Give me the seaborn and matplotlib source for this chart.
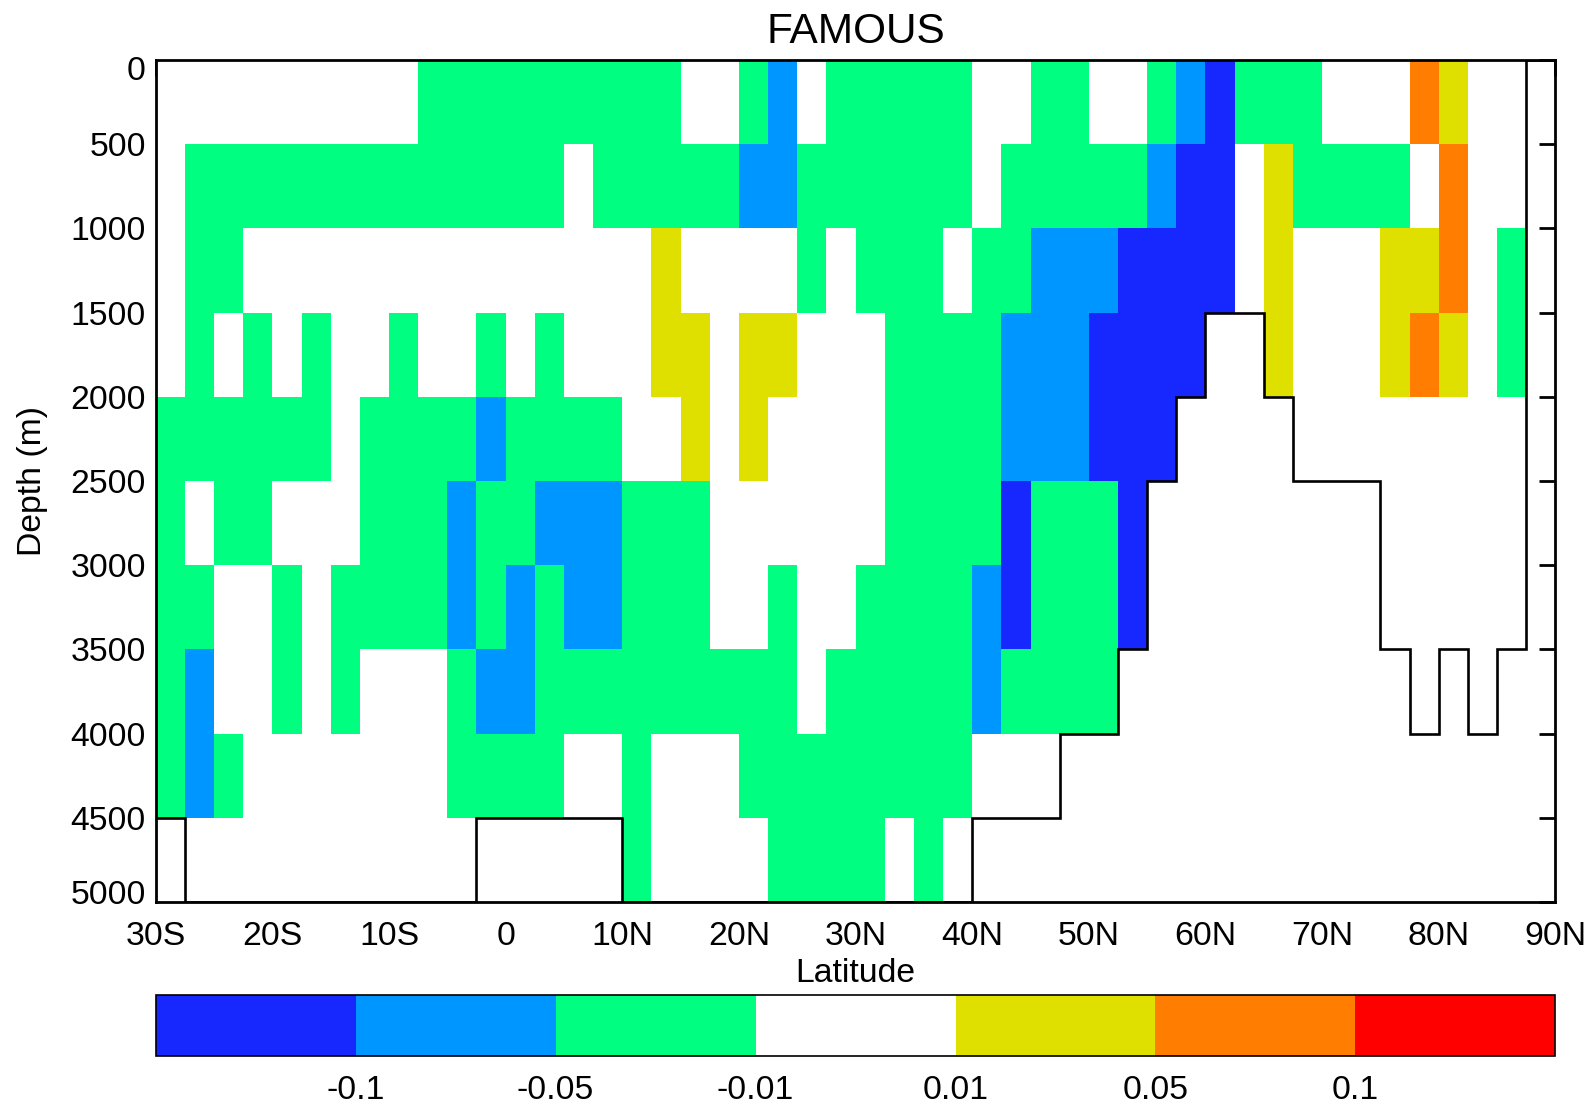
import numpy as np
import pandas as pd
import matplotlib
matplotlib.use("Agg")
import matplotlib.pyplot as plt
from matplotlib.colors import ListedColormap, BoundaryNorm
from matplotlib.cm import ScalarMappable
from matplotlib.transforms import ScaledTranslation
import seaborn as sns

# ---------------------------------------------------------------------------
# Section data: zonal-mean anomaly on a 2.5 deg x 500 m grid (NaN = land)
# ---------------------------------------------------------------------------
B, L, G, W, Y, O = -0.12, -0.07, -0.03, 0.0, 0.03, 0.07
N = np.nan

lat_step = 2.5
lat_start = -30.0
depth_step = 500

z_0000_0500 = [W, W, W, W, W, W, W, W, W, G, G, G, G, G, G, G, G, G, W, W, G, L, W, G,
               G, G, G, G, W, W, G, G, W, W, G, L, B, G, G, G, W, W, W, O, Y, W, W, N]
z_0500_1000 = [W, G, G, G, G, G, G, G, G, G, G, G, G, G, W, G, G, G, G, G, L, L, G, G,
               G, G, G, G, W, G, G, G, G, G, L, B, B, W, Y, G, G, G, G, W, O, W, W, N]
z_1000_1500 = [W, G, G, W, W, W, W, W, W, W, W, W, W, W, W, W, W, Y, W, W, W, W, G, W,
               G, G, G, W, G, G, L, L, L, B, B, B, B, W, Y, W, W, W, Y, Y, O, W, G, N]
z_1500_2000 = [W, G, W, G, W, G, W, W, G, W, W, G, W, G, W, W, W, Y, Y, W, Y, Y, W, W,
               W, G, G, G, G, L, L, L, B, B, B, B, N, N, Y, W, W, W, Y, O, Y, W, G, N]
z_2000_2500 = [G, G, G, G, G, G, W, G, G, G, G, L, G, G, G, G, W, W, Y, W, Y, W, W, W,
               W, G, G, G, G, L, L, L, B, B, B, N, N, N, N, W, W, W, W, W, W, W, W, N]
z_2500_3000 = [G, W, G, G, W, W, W, G, G, G, L, G, G, L, L, L, G, G, G, W, W, W, W, W,
               W, G, G, G, G, B, G, G, G, B, N, N, N, N, N, N, N, N, W, W, W, W, W, N]
z_3000_3500 = [G, G, W, W, G, W, G, G, G, G, L, G, L, G, L, L, G, G, G, W, W, G, W, W,
               G, G, G, G, L, B, G, G, G, B, N, N, N, N, N, N, N, N, W, W, W, W, W, N]
z_3500_4000 = [G, L, W, W, G, W, G, W, W, W, G, L, L, G, G, G, G, G, G, G, G, G, W, G,
               G, G, G, G, L, G, G, G, G, N, N, N, N, N, N, N, N, N, N, W, N, W, N, N]
z_4000_4500 = [G, L, G, W, W, W, W, W, W, W, G, G, G, G, W, W, G, W, W, W, G, G, G, G,
               G, G, G, G, W, W, W, N, N, N, N, N, N, N, N, N, N, N, N, N, N, N, N, N]
z_4500_5000 = [N, W, W, W, W, W, W, W, W, W, W, N, N, N, N, N, G, W, W, W, W, G, G, G,
               G, W, G, W, N, N, N, N, N, N, N, N, N, N, N, N, N, N, N, N, N, N, N, N]

# Ocean floor depth (m) of each latitude column
bottom_depth = [4500, 5000, 5000, 5000, 5000, 5000, 5000, 5000, 5000, 5000, 5000, 4500,
                4500, 4500, 4500, 4500, 5000, 5000, 5000, 5000, 5000, 5000, 5000, 5000,
                5000, 5000, 5000, 5000, 4500, 4500, 4500, 4000, 4000, 3500, 2500, 2000,
                1500, 1500, 2000, 2500, 2500, 2500, 3500, 4000, 3500, 4000, 3500, 0]

lat_ticks = ["30S", "20S", "10S", "0", "10N", "20N", "30N", "40N", "50N", "60N",
             "70N", "80N", "90N"]
depth_ticks = ["0", "500", "1000", "1500", "2000", "2500", "3000", "3500", "4000",
               "4500", "5000"]

levels = [-0.15, -0.1, -0.05, -0.01, 0.01, 0.05, 0.1, 0.15]
level_labels = ["-0.1", "-0.05", "-0.01", "0.01", "0.05", "0.1"]
band_colors = ["#1728ff", "#0096ff", "#00ff80", "#ffffff", "#e0e000", "#ff7d00", "#ff0000"]

# ---------------------------------------------------------------------------
sns.set_style("white")
plt.rcParams["font.family"] = ["Liberation Sans", "DejaVu Sans"]
plt.rcParams["text.color"] = "black"
plt.rcParams["axes.labelcolor"] = "black"
plt.rcParams["xtick.color"] = "black"
plt.rcParams["ytick.color"] = "black"

rows = [z_0000_0500, z_0500_1000, z_1000_1500, z_1500_2000, z_2000_2500,
        z_2500_3000, z_3000_3500, z_3500_4000, z_4000_4500, z_4500_5000]
n_lat = len(z_0000_0500)
lat_centres = lat_start + lat_step * (np.arange(n_lat) + 0.5)
depth_centres = depth_step * (np.arange(len(rows)) + 0.5)
field = pd.DataFrame(np.array(rows, dtype=float), index=depth_centres, columns=lat_centres)

cmap = ListedColormap(band_colors)
norm = BoundaryNorm(levels, cmap.N)

fig = plt.figure(figsize=(15.96, 11.05), dpi=100)
ax = fig.add_axes([0.09756, 0.18371, 0.87701, 0.76199])
cax = fig.add_axes([0.09756, 0.04434, 0.87701, 0.0552])

sns.heatmap(field, ax=ax, cmap=cmap, norm=norm, cbar=False,
            xticklabels=False, yticklabels=False)

# Land outline: step line along the ocean floor (heatmap cell units)
ax.stairs(np.array(bottom_depth) / depth_step, np.arange(n_lat + 1),
          baseline=None, color="black", linewidth=1.9, zorder=3)

ax.set_xticks(np.arange(0, n_lat + 1, int(10 / lat_step)))
ax.set_xticklabels(lat_ticks, rotation=0)
ax.set_yticks(np.arange(len(depth_ticks)))
ax.set_yticklabels(depth_ticks, rotation=0)

for side in ax.spines.values():
    side.set_visible(True)
    side.set_color("black")
    side.set_linewidth(2.0)
    side.set_zorder(4)

ax.tick_params(axis="both", which="major", direction="in", length=11.5, width=2,
               color="black", top=True, right=True, labelsize=24.3,
               labelcolor="black")
ax.tick_params(axis="x", pad=13.5)
ax.tick_params(axis="y", pad=7)

# Keep the end depth labels inside the frame
ylabels = ax.get_yticklabels()
ylabels[0].set_transform(ylabels[0].get_transform()
                         + ScaledTranslation(0, -0.08, fig.dpi_scale_trans))
ylabels[-1].set_transform(ylabels[-1].get_transform()
                          + ScaledTranslation(0, 0.10, fig.dpi_scale_trans))

ax.set_title("FAMOUS", fontsize=30.5, pad=12, color="black")
ax.set_xlabel("Latitude", fontsize=24.3)
ax.set_ylabel("Depth (m)", fontsize=24.3)
ax.xaxis.label.set_va("center")
ax.xaxis.set_label_coords(0.5, -0.085)
ax.yaxis.label.set_va("center")
ax.yaxis.set_label_coords(-0.088, 0.5)

cb = fig.colorbar(ScalarMappable(norm=norm, cmap=cmap), cax=cax,
                  orientation="horizontal", spacing="uniform")
cb.set_ticks(levels[1:-1], labels=level_labels)
cb.minorticks_off()
cb.outline.set_linewidth(1.2)
cb.outline.set_edgecolor("black")
cax.tick_params(which="both", length=0, pad=13.5, labelsize=24.3,
                labelcolor="black")

fig.savefig("out.png", dpi=100)
